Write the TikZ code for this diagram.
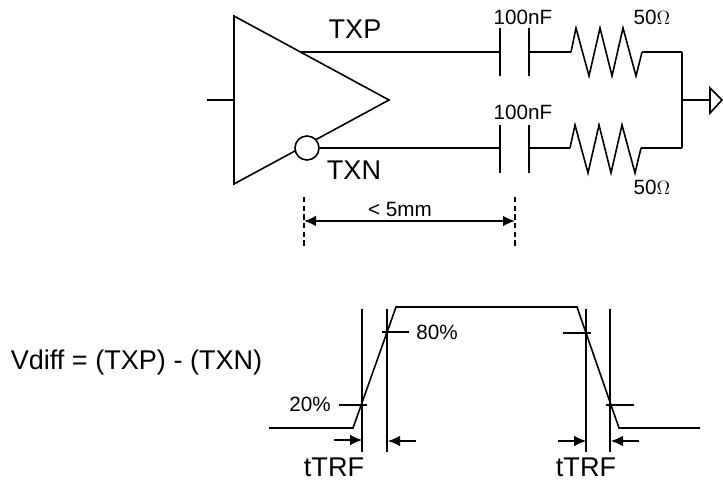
\documentclass[tikz,border=0pt]{standalone}
\usepackage{fontspec}
\setmainfont{Liberation Sans}
\usetikzlibrary{arrows.meta}

\begin{document}
\begin{tikzpicture}[x=0.75pt, y=-0.75pt]
  \def\bubblesize{24*0.75pt}
  \def\lowershift{96}
  \tikzstyle{wire} = [line width = 1.2pt]
  \tikzstyle{thin wire} = [line width = 0.85pt]
  \tikzstyle{bigtext} = [inner sep = 0pt, font = \fontsize{20.3}{20.3}\selectfont]
  \tikzstyle{smalltext} = [inner sep = 0pt, font = \fontsize{15.5}{15.5}\selectfont]
  \tikzstyle{bubble} = [circle, draw, fill=white, line width = 1.2pt, inner sep = 0pt, minimum size = \bubblesize]
  \tikzstyle{dim} = [wire, {Latex[length=9pt,width=8pt]}-{Latex[length=9pt,width=8pt]}]
  \tikzstyle{pointer} = [thin wire, -{Latex[length=9pt,width=8pt]}]

  \useasboundingbox (0, 0) rectangle (723, 484);

  % driver
  \coordinate (top) at (234, 16);
  \coordinate (bottom) at (234, 184);
  \coordinate (tip) at (389, 100);
  \coordinate (in) at (207, 100);
  \coordinate (inend) at (234, 100);
  \coordinate (txpstart) at (300, 52);
  \draw[wire, line join=miter] (top) -- (tip) -- (bottom) -- cycle;
  \draw[wire] (in) -- (inend);
  \node[bubble] (bub) at (307, 148) {};
  \node[bigtext] (txp) at (355, 29) {TXP};
  \node[bigtext] (txn) at (354, 170) {TXN};

  % upper branch
  \begin{scope}[shift={(0,0)}]
    \coordinate (pa1) at (500, 28);
    \coordinate (pa2) at (500, 76);
    \coordinate (pa) at (500, 52);
    \coordinate (qa1) at (529, 28);
    \coordinate (qa2) at (529, 76);
    \coordinate (qa) at (529, 52);
    \coordinate (ra) at (571, 52);
    \coordinate (sa) at (642, 52);
    \coordinate (ja) at (682, 52);
    \draw[wire] (txpstart) -- (pa);
    \draw[wire] (pa1) -- (pa2);
    \draw[wire] (qa1) -- (qa2);
    \draw[wire] (qa) -- (ra);
    \draw[wire] (ra) -- (576, 28) -- (589, 76) -- (600, 28) -- (612, 76) -- (623, 28) -- (636, 76) -- (sa);
    \draw[wire] (sa) -- (ja);
    \node[smalltext] (capa) at (523, 17) {100nF};
    \node[smalltext] (resa) at (652, 17.5) {50$\Omega$};
  \end{scope}

  % lower branch
  \begin{scope}[shift={(0,\lowershift)}]
    \coordinate (pb1) at (500, 29);
    \coordinate (pb2) at (500, 77);
    \coordinate (pb) at (500, 52);
    \coordinate (qb1) at (529, 29);
    \coordinate (qb2) at (529, 77);
    \coordinate (qb) at (529, 52);
    \coordinate (rb) at (570, 52);
    \coordinate (sb) at (641, 52);
    \coordinate (jb) at (682, 52);
    \draw[wire] (bub) -- (pb);
    \draw[wire] (pb1) -- (pb2);
    \draw[wire] (qb1) -- (qb2);
    \draw[wire] (qb) -- (rb);
    \draw[wire] (rb) -- (575, 29) -- (588, 77) -- (599, 29) -- (611, 77) -- (622, 29) -- (635, 77) -- (sb);
    \draw[wire] (sb) -- (jb);
    \node[smalltext] (capb) at (523, 16) {100nF};
    \node[smalltext] (resb) at (652, 91) {50$\Omega$};
  \end{scope}

  % output
  \coordinate (jc) at (682, 100);
  \coordinate (outa) at (710, 100);
  \draw[wire] (ja) -- (jb);
  \draw[wire] (jc) -- (outa);
  \draw[wire] (710, 88) -- (722, 100) -- (710, 113) -- cycle;

  % 5mm
  \coordinate (da1) at (304, 197);
  \coordinate (da2) at (304, 246);
  \coordinate (db1) at (515, 197);
  \coordinate (db2) at (515, 246);
  \coordinate (dl) at (304, 221);
  \coordinate (dr) at (515, 221);
  \draw[thin wire, dash pattern=on 4pt off 2.5pt] (da1) -- (da2);
  \draw[thin wire, dash pattern=on 4pt off 2.5pt] (db1) -- (db2);
  \draw[dim] (dl) -- (dr);
  \node[smalltext] (len) at (400, 209) {< 5mm};

  % waveform
  \node[bigtext] (vdiff) at (136.5, 362) {Vdiff = (TXP) - (TXN)};
  \draw[wire] (269, 428) -- (353, 428) -- (396, 307) -- (577, 307) -- (619, 428) -- (700, 428);

  \begin{scope}[shift={(0,0)}]
    \draw[thin wire] (362, 309) -- (362, 452);
    \draw[thin wire] (387, 309) -- (387, 452);
    \draw[thin wire] (382, 332) -- (409, 332);
    \draw[thin wire] (339, 405) -- (367, 405);
    \draw[pointer] (334, 440) -- (362, 440);
    \draw[pointer] (416, 441) -- (388, 441);
    \node[smalltext] (low) at (310, 404) {20\%};
    \node[smalltext] (high) at (437, 332) {80\%};
    \node[bigtext] (riset) at (334, 467) {tTRF};
  \end{scope}

  \begin{scope}[shift={(0,0)}]
    \draw[thin wire] (586, 309) -- (586, 452);
    \draw[thin wire] (610, 309) -- (610, 452);
    \draw[thin wire] (563, 333) -- (591, 333);
    \draw[thin wire] (606, 405) -- (634, 405);
    \draw[pointer] (558, 441) -- (586, 441);
    \draw[pointer] (639, 441) -- (611, 441);
    \node[bigtext] (fallt) at (586, 467) {tTRF};
  \end{scope}
\end{tikzpicture}
\end{document}
